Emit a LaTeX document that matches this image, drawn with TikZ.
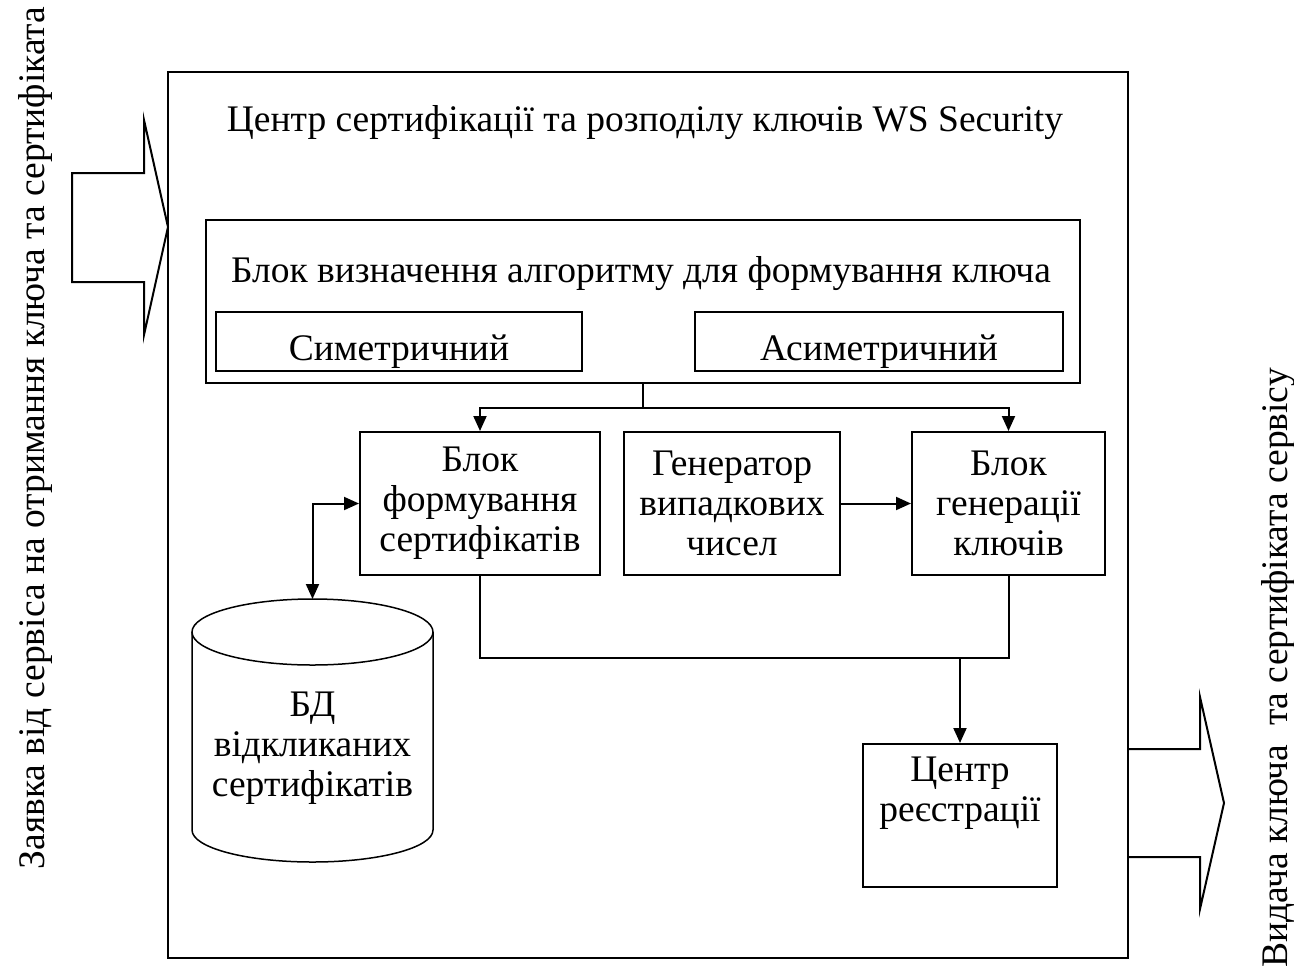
\documentclass[tikz,border=0pt]{standalone}
\usepackage{fontspec}
\setmainfont{Liberation Serif}
\usetikzlibrary{arrows.meta}

\begin{document}
\begin{tikzpicture}[
            x = 1pt, y = -1pt, % pixel grid of the page, y going down
            > = {Triangle[length=15pt, width=13pt]}, % arrow head style
            line width = 2pt, % line style
            font = \fontsize{37.5}{40}\selectfont
        ]

        \tikzstyle{block}=[
            draw = black,
            align = center,
            inner sep = 0pt
        ]
        \tikzstyle{choice}=[
            block,
            minimum height = 59pt,
            text height = 37pt,
            text depth = 0pt
        ]

        \useasboundingbox (0,0) rectangle (1294,970);

        \node[block, minimum width=960pt, minimum height=886pt] (wss) at (648,515) {};
        \node[anchor=base] (title) at (645,131) {Центр сертифікації та розподілу ключів WS Security};

        \node[block, minimum width=874pt, minimum height=163pt] (alg) at (643,301.5) {};
        \node[anchor=base] (algtitle) at (641,282) {Блок визначення алгоритму для формування ключа};
        \node[choice, minimum width=366pt] (sym) at (399,341.5) {Симетричний};
        \node[choice, minimum width=368pt] (asym) at (879,341.5) {Асиметричний};

        \node[block, minimum width=240pt, minimum height=143pt] (cert) at (480,503.5) {Блок\\формування\\сертифікатів};
        \node[block, minimum width=216pt, minimum height=143pt] (gen) at (732,503.5) {Генератор\\випадкових\\чисел};
        \node[block, minimum width=193pt, minimum height=143pt] (keygen) at (1008.5,503.5) {Блок\\генерації\\ключів};
        \node[block, minimum width=194pt, minimum height=143pt] (reg) at (960,815.5) {Центр\\реєстрації\\\strut};

        % database of revoked certificates
        \draw[line width=1.5pt] (312.5,632) ellipse [x radius=120.5, y radius=33];
        \draw[line width=1.5pt] (192,632) -- (192,830) arc [start angle=180, end angle=0, x radius=120.5, y radius=32] -- (433,632);
        \coordinate (dbtop) at (312.5,599);
        \node[align=center] (db) at (312.5,748) {БД\\відкликаних\\сертифікатів};

        \draw (alg.south) -- ++(0,24) coordinate (fork);
        \draw[->] (fork) -| (cert.north);
        \draw[->] (fork) -| (keygen.north);
        \draw[->] (gen.east) -- (keygen.west);
        \draw[<->] (dbtop) |- (cert.west);

        \coordinate (join) at (960,658);
        \draw (cert.south) |- (join) -| (keygen.south);
        \draw[->] (join) -- (reg.north);

        % in and out block arrows
        \draw (72,173) -- (144,173) -- (144,120) -- (168,227) -- (144,335) -- (144,282) -- (72,282) -- cycle;
        \draw (1128,749) -- (1200,749) -- (1200,697) -- (1224,803) -- (1200,909) -- (1200,857) -- (1128,857);

        \node[rotate=90, anchor=base] (request) at (44,438) {Заявка від сервіса на отримання ключа та сертифіката};
        \node[rotate=90, anchor=base] (issue) at (1287,668) {Видача ключа\ \ та сертифіката сервісу};
    \end{tikzpicture}
\end{document}
